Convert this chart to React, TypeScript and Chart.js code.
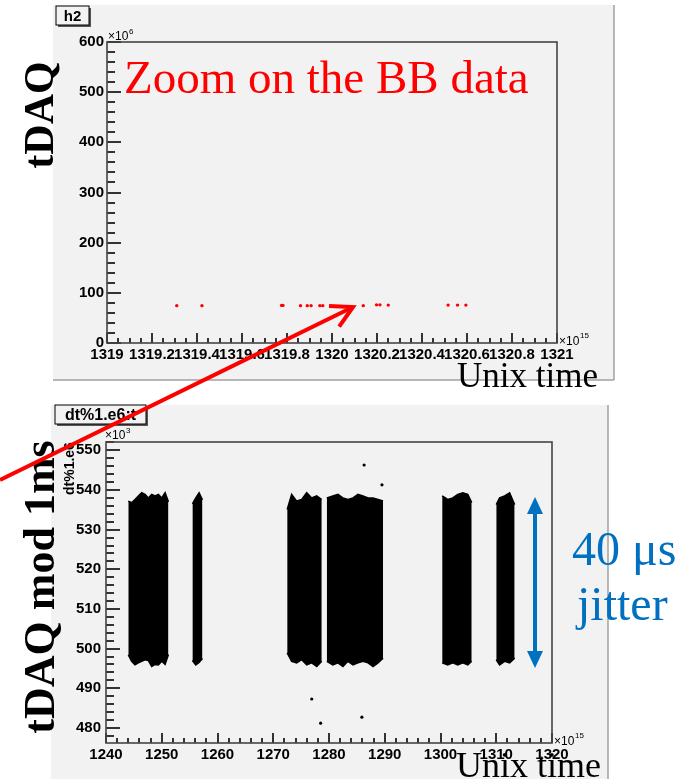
import React, { useEffect, useRef } from 'react';
import { Chart, registerables } from 'chart.js';

Chart.register(...registerables);

// ---------- top panel "h2" : tDAQ (x10^6) vs Unix time (x10^15) ----------
const topTimes = [1319.310, 1319.422, 1319.776, 1319.782, 1319.860, 1319.890, 1319.907, 1319.946, 1319.959, 1320.139, 1320.198, 1320.213, 1320.250, 1320.516, 1320.558, 1320.595];
const topTdaq = [74.5, 74.5, 75, 75, 74.5, 74.5, 74.5, 74.5, 74.5, 74.5, 76, 76, 75.5, 75.5, 75.5, 75.5];
const topXTicks = [1319, 1319.2, 1319.4, 1319.6, 1319.8, 1320, 1320.2, 1320.4, 1320.6, 1320.8, 1321];
const topXLabels = ['1319', '1319.2', '1319.4', '1319.6', '1319.8', '1320', '1320.2', '1320.4', '1320.6', '1320.8', '1321'];
const topYTicks = [0, 100, 200, 300, 400, 500, 600];
const topYLabels = ['0', '100', '200', '300', '400', '500', '600'];

// ---------- bottom panel "dt%1.e6:t" : tDAQ mod 1ms (x10^3) ----------
// dense clusters of points: time span with upper / lower envelope of the cloud
const band1Times = [1244.0, 1244.6, 1245.2, 1245.8, 1246.4, 1247.0, 1247.6, 1248.2, 1248.8, 1249.4, 1250.0, 1250.6, 1251.2];
const band1Upper = [537.2, 536.8, 537.6, 538.5, 539.3, 538.9, 538.0, 538.9, 538.5, 538.9, 538.0, 539.3, 537.0];
const band1Lower = [498.4, 496.8, 495.9, 496.4, 496.8, 497.2, 497.0, 495.5, 496.0, 495.9, 496.8, 496.0, 498.5];

const band2Times = [1255.5, 1256.1, 1256.7, 1257.3];
const band2Upper = [536.5, 538.0, 539.3, 537.5];
const band2Lower = [497.0, 495.9, 496.5, 497.5];

const band3Times = [1272.5, 1273.3, 1274.2, 1275.1, 1276.0, 1276.9, 1277.8, 1278.7];
const band3Upper = [535.1, 538.9, 537.2, 537.6, 539.3, 538.0, 538.5, 537.6];
const band3Lower = [498.9, 496.8, 496.4, 497.2, 495.9, 496.4, 495.5, 496.8];

const band4Times = [1279.6, 1280.7, 1281.6, 1282.5, 1283.4, 1284.3, 1285.2, 1286.1, 1287.0, 1287.9, 1288.8, 1289.7];
const band4Upper = [538.0, 538.5, 538.9, 538.0, 537.6, 538.0, 538.9, 538.5, 538.0, 538.0, 537.6, 537.2];
const band4Lower = [496.8, 495.9, 496.4, 495.5, 496.8, 495.9, 496.4, 496.8, 496.4, 495.5, 496.4, 497.6];

const band5Times = [1300.3, 1301.3, 1302.2, 1303.1, 1304.0, 1304.9, 1305.6];
const band5Upper = [538.5, 537.6, 538.0, 538.9, 539.3, 538.9, 536.8];
const band5Lower = [496.4, 495.9, 496.4, 495.9, 496.4, 495.9, 496.8];

const band6Times = [1310.0, 1310.6, 1311.5, 1312.4, 1313.3];
const band6Upper = [536.3, 538.0, 538.5, 539.3, 536.3];
const band6Lower = [497.2, 495.9, 496.8, 496.4, 497.6];

const outlierTimes = [1276.9, 1278.5, 1285.9, 1286.3, 1289.5];
const outlierValues = [487.3, 481.2, 482.7, 546.3, 541.3];

const botXTicks = [1240, 1250, 1260, 1270, 1280, 1290, 1300, 1310, 1320];
const botXLabels = ['1240', '1250', '1260', '1270', '1280', '1290', '1300', '1310', '1320'];
const botYTicks = [480, 490, 500, 510, 520, 530, 540, 550];
const botYLabels = ['480', '490', '500', '510', '520', '530', '540', '550'];

const SANS = '"Liberation Sans", Arial, Helvetica, sans-serif';
const SERIF = '"Liberation Serif", "Times New Roman", Times, serif';
const PANEL_BG = '#f2f2f2';

function makeFramePlugin(cfg: any) {
  return {
    id: 'rootFrame',
    afterDraw(chart: any) {
      const { ctx, chartArea: a, scales } = chart;
      const xs = scales.x;
      const ys = scales.y;
      ctx.save();
      ctx.fillStyle = '#333';
      const xTick = (v: number, len: number) => {
        const px = Math.round(xs.getPixelForValue(v));
        ctx.fillRect(px - 1, a.bottom - len, 2, len);
      };
      const yTick = (v: number, len: number) => {
        const py = Math.round(ys.getPixelForValue(v));
        ctx.fillRect(a.left, py - 1, len, 2);
      };
      const kx0 = Math.ceil(cfg.xMin / cfg.xMinor - 1e-6);
      const kx1 = Math.floor(cfg.xMax / cfg.xMinor + 1e-6);
      for (let k = kx0; k <= kx1; k++) xTick(k * cfg.xMinor, 5);
      const ky0 = Math.ceil(cfg.yMin / cfg.yMinor - 1e-6);
      const ky1 = Math.floor(cfg.yMax / cfg.yMinor + 1e-6);
      for (let k = ky0; k <= ky1; k++) yTick(k * cfg.yMinor, 8);
      cfg.xTicks.forEach((v: number) => xTick(v, 10));
      cfg.yTicks.forEach((v: number) => yTick(v, 14));
      ctx.lineWidth = 1.6;
      ctx.strokeStyle = '#444';
      ctx.strokeRect(a.left, a.top, a.right - a.left, a.bottom - a.top);
      ctx.restore();
    },
  };
}

function band(times: number[], upper: number[], lower: number[]) {
  const common = {
    borderColor: '#000',
    backgroundColor: '#000',
    borderWidth: 1.5,
    pointRadius: 0,
    tension: 0,
    showLine: true,
  };
  return [
    { ...common, data: times.map((t, i) => ({ x: t, y: upper[i] })), fill: { target: '+1', above: '#000', below: '#000' } },
    { ...common, data: times.map((t, i) => ({ x: t, y: lower[i] })), fill: false },
  ];
}

function makeConfig(p: any) {
  const tickFont = { family: SANS, size: 15, weight: 'bold' as const };
  return {
    type: 'line' as const,
    data: { datasets: p.datasets },
    options: {
      animation: false as const,
      responsive: false,
      maintainAspectRatio: false,
      events: [],
      layout: { padding: { top: p.padTop, right: p.padRight, left: 0, bottom: 0 } },
      plugins: {
        legend: { display: false },
        tooltip: { enabled: false },
      },
      scales: {
        x: {
          type: 'linear' as const,
          min: p.xMin, max: p.xMax,
          grid: { display: false, drawTicks: false },
          border: { display: false },
          afterBuildTicks: (ax: any) => { ax.ticks = p.xTicks.map((v: number) => ({ value: v })); },
          afterFit: (ax: any) => { ax.height = p.xAxisHeight; },
          ticks: {
            autoSkip: false, maxRotation: 0, minRotation: 0, padding: 3,
            color: '#000', font: tickFont,
            callback: (_v: any, i: number) => p.xLabels[i],
          },
        },
        y: {
          type: 'linear' as const,
          min: p.yMin, max: p.yMax,
          grid: { display: false, drawTicks: false },
          border: { display: false },
          afterBuildTicks: (ax: any) => { ax.ticks = p.yTicks.map((v: number) => ({ value: v })); },
          afterFit: (ax: any) => { ax.width = p.yAxisWidth; },
          ticks: {
            autoSkip: false, padding: p.yPad,
            color: '#000', font: tickFont,
            callback: (_v: any, i: number) => p.yLabels[i],
          },
        },
      },
    },
    plugins: [makeFramePlugin(p)],
  };
}

const TOP = { left: 53, top: 5, width: 561, height: 375 };
const BOT = { left: 51, top: 405, width: 557, height: 374 };

export default function App() {
  const topRef = useRef<HTMLCanvasElement>(null);
  const botRef = useRef<HTMLCanvasElement>(null);

  useEffect(() => {
    const topChart = new Chart(topRef.current as HTMLCanvasElement, makeConfig({
      datasets: [{
        data: topTimes.map((t, i) => ({ x: t, y: topTdaq[i] })),
        showLine: false, pointRadius: 1.7, pointBorderWidth: 0,
        pointBackgroundColor: '#ff0000', borderColor: '#ff0000', backgroundColor: '#ff0000',
      }],
      xMin: 1319, xMax: 1321, yMin: 0, yMax: 600,
      xTicks: topXTicks, xLabels: topXLabels, yTicks: topYTicks, yLabels: topYLabels,
      xMinor: 0.05, yMinor: 20,
      padTop: 37, padRight: TOP.width - (557 - TOP.left), yAxisWidth: 107 - TOP.left, xAxisHeight: TOP.height - (343 - TOP.top),
      yPad: 3,
    }) as any);

    const botChart = new Chart(botRef.current as HTMLCanvasElement, makeConfig({
      datasets: [
        ...band(band1Times, band1Upper, band1Lower),
        ...band(band2Times, band2Upper, band2Lower),
        ...band(band3Times, band3Upper, band3Lower),
        ...band(band4Times, band4Upper, band4Lower),
        ...band(band5Times, band5Upper, band5Lower),
        ...band(band6Times, band6Upper, band6Lower),
        {
          data: outlierTimes.map((t, i) => ({ x: t, y: outlierValues[i] })),
          showLine: false, pointRadius: 1.6, pointBorderWidth: 0,
          pointBackgroundColor: '#000', borderColor: '#000', backgroundColor: '#000',
        },
      ],
      xMin: 1240, xMax: 1320, yMin: 476.2, yMax: 552.1,
      xTicks: botXTicks, xLabels: botXLabels, yTicks: botYTicks, yLabels: botYLabels,
      xMinor: 2, yMinor: 2,
      padTop: 442 - BOT.top, padRight: BOT.width - (552 - BOT.left), yAxisWidth: 106 - BOT.left, xAxisHeight: BOT.height - (743 - BOT.top),
      yPad: 5,
    }) as any);

    return () => { topChart.destroy(); botChart.destroy(); };
  }, []);

  // red arrow geometry (annotation)
  const tip = { x: 353, y: 307 };
  const tail = { x: 0, y: 480 };
  const ang = Math.atan2(tail.y - tip.y, tail.x - tip.x);
  const headLen = 24;
  const spread = 0.5;
  const h1 = { x: tip.x + headLen * Math.cos(ang + spread), y: tip.y + headLen * Math.sin(ang + spread) };
  const h2 = { x: tip.x + headLen * Math.cos(ang - spread), y: tip.y + headLen * Math.sin(ang - spread) };

  const panelStyle = (p: any): React.CSSProperties => ({
    position: 'absolute', left: p.left, top: p.top, width: p.width, height: p.height, background: PANEL_BG,
  });

  return (
    <div style={{ position: 'absolute', left: 0, top: 0, width: 689, height: 779, overflow: 'hidden', background: '#fff' }}>
      <div style={panelStyle(TOP)}>
        <canvas ref={topRef} width={TOP.width} height={TOP.height} style={{ display: 'block', width: TOP.width, height: TOP.height }} />
      </div>
      <div style={panelStyle(BOT)}>
        <canvas ref={botRef} width={BOT.width} height={BOT.height} style={{ display: 'block', width: BOT.width, height: BOT.height }} />
      </div>
      <svg width={689} height={779} style={{ position: 'absolute', left: 0, top: 0, pointerEvents: 'none' }}>
        <defs>
          <clipPath id="dtclip"><rect x={0} y={441} width={200} height={200} /></clipPath>
        </defs>
        {/* panel borders */}
        <line x1={TOP.left + TOP.width} y1={TOP.top} x2={TOP.left + TOP.width} y2={TOP.top + TOP.height} stroke="#a0a0a0" strokeWidth={1.5} />
        <line x1={TOP.left} y1={TOP.top + TOP.height} x2={TOP.left + TOP.width} y2={TOP.top + TOP.height} stroke="#a0a0a0" strokeWidth={1.5} />
        <line x1={BOT.left + BOT.width} y1={BOT.top} x2={BOT.left + BOT.width} y2={779} stroke="#a0a0a0" strokeWidth={1.5} />

        {/* title boxes */}
        <rect x={58} y={8} width={33} height={19} fill="#555" />
        <rect x={56} y={6} width={33} height={19} fill={PANEL_BG} stroke="#000" strokeWidth={1} />
        <text x={72.5} y={21} textAnchor="middle" fontFamily={SANS} fontWeight="bold" fontSize={15} fill="#000">h2</text>
        <rect x={57} y={407} width={91} height={19} fill="#555" />
        <rect x={55} y={405} width={91} height={19} fill={PANEL_BG} stroke="#000" strokeWidth={1} />
        <text x={100.5} y={420} textAnchor="middle" fontFamily={SANS} fontWeight="bold" fontSize={16} fill="#000">dt%1.e6:t</text>

        {/* exponents */}
        <text x={108} y={40} fontFamily={SANS} fontSize={12} fill="#000">×10</text>
        <text x={129} y={34} fontFamily={SANS} fontSize={8} fill="#000">6</text>
        <text x={559} y={345} fontFamily={SANS} fontSize={12} fill="#000">×10</text>
        <text x={580} y={338} fontFamily={SANS} fontSize={8} fill="#000">15</text>
        <text x={105} y={439} fontFamily={SANS} fontSize={12} fill="#000">×10</text>
        <text x={126} y={433} fontFamily={SANS} fontSize={8} fill="#000">3</text>
        <text x={554} y={745} fontFamily={SANS} fontSize={12} fill="#000">×10</text>
        <text x={575} y={738} fontFamily={SANS} fontSize={8} fill="#000">15</text>

        {/* bottom y-axis title (partly hidden at top) */}
        <g clipPath="url(#dtclip)">
          <text transform="translate(74,495) rotate(-90)" fontFamily={SANS} fontWeight="bold" fontSize={14} fill="#000">dt%1.e6:t</text>
        </g>

        {/* slide annotations */}
        <text x={124} y={93} fontFamily={SERIF} fontSize={47} fill="#ff0000">Zoom on the BB data</text>
        <text x={598} y={387} textAnchor="end" fontFamily={SERIF} fontSize={35} fill="#000">Unix time</text>
        <text x={601} y={777} textAnchor="end" fontFamily={SERIF} fontSize={36} fill="#000">Unix time</text>
        <text transform="translate(53,115) rotate(-90)" textAnchor="middle" fontFamily={SERIF} fontWeight="bold" fontSize={42} fill="#000">tDAQ</text>
        <text transform="translate(54,587) rotate(-90)" textAnchor="middle" fontFamily={SERIF} fontWeight="bold" fontSize={44} fill="#000">tDAQ mod 1ms</text>
        <text x={572} y={565} fontFamily={SERIF} fontSize={48} fill="#0070c0">40 μs</text>
        <text x={577} y={620} fontFamily={SERIF} fontSize={48} fill="#0070c0">jitter</text>

        {/* blue double arrow */}
        <line x1={535} y1={508} x2={535} y2={657} stroke="#0070c0" strokeWidth={4} />
        <polygon points="535,497 527,514 543,514" fill="#0070c0" />
        <polygon points="535,668 527,651 543,651" fill="#0070c0" />

        {/* red arrow */}
        <line x1={tail.x} y1={tail.y} x2={tip.x} y2={tip.y} stroke="#ff0000" strokeWidth={4} />
        <polyline points={`${h1.x},${h1.y} ${tip.x},${tip.y} ${h2.x},${h2.y}`} fill="none" stroke="#ff0000" strokeWidth={4} strokeLinejoin="miter" />
      </svg>
    </div>
  );
}
